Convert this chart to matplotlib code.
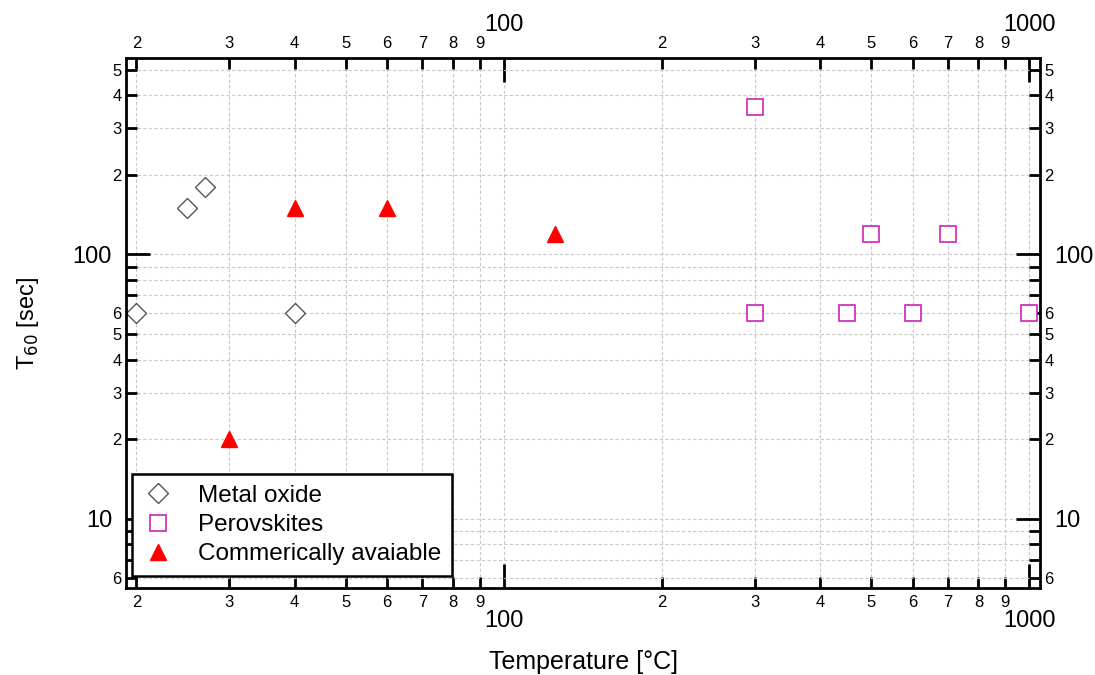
import numpy as np
import matplotlib
matplotlib.use('Agg')
import matplotlib.pyplot as plt
from matplotlib.ticker import LogLocator, FixedLocator, FuncFormatter

plt.rcParams['font.family'] = ['Liberation Sans', 'DejaVu Sans']

# data
metal_x = [20, 25, 27, 40]
metal_y = [60, 150, 180, 60]
perov_x = [300, 300, 450, 500, 600, 700, 1000]
perov_y = [360, 60, 60, 120, 60, 120, 60]
comm_x = [30, 40, 60, 125]
comm_y = [20, 150, 150, 120]

x_labelled = [2, 3, 4, 5, 6, 7, 8, 9]
y_labelled = [2, 3, 4, 5, 6]


def minor_fmt(labelled):
    def f(v, pos):
        m = v / 10 ** np.floor(np.log10(v) + 1e-9)
        m = int(round(m))
        return str(m) if m in labelled else ''
    return FuncFormatter(f)


def major_fmt(v, pos):
    return '%d' % round(v)


fig = plt.figure(figsize=(10.95, 6.75), dpi=100)
ax = fig.add_axes([0.115, 0.129, 0.835, 0.785])

ax.plot(metal_x, metal_y, 'D', ms=10, mfc='white', mec='#555555', mew=1.0,
        ls='none', label='Metal oxide')
ax.plot(perov_x, perov_y, 's', ms=11, mfc='white', mec='#cc22bb', mew=1.2,
        ls='none', label='Perovskites')
ax.plot(comm_x, comm_y, '^', ms=11, color='#ff0000', mec='#ff0000',
        ls='none', label='Commerically avaiable')

ax.set_xscale('log')
ax.set_yscale('log')
ax.set_xlim(19.1, 1049)
ax.set_ylim(5.48, 553)

ax.xaxis.set_major_locator(FixedLocator([100, 1000]))
ax.yaxis.set_major_locator(FixedLocator([10, 100]))
ax.xaxis.set_minor_locator(LogLocator(base=10, subs=np.arange(2, 10)))
ax.yaxis.set_minor_locator(LogLocator(base=10, subs=np.arange(2, 10)))
ax.xaxis.set_major_formatter(FuncFormatter(major_fmt))
ax.yaxis.set_major_formatter(FuncFormatter(major_fmt))
ax.xaxis.set_minor_formatter(minor_fmt(x_labelled))
ax.yaxis.set_minor_formatter(minor_fmt(y_labelled))

ax.tick_params(which='both', direction='in', top=True, right=True,
               labeltop=True, labelright=True, width=2, color='black')
ax.tick_params(axis='x', which='major', length=17, labelsize=17, pad=16)
ax.tick_params(axis='y', which='major', length=17, labelsize=17, pad=10)
ax.tick_params(axis='x', which='minor', length=8, labelsize=12, pad=5)
ax.tick_params(axis='y', which='minor', length=8, labelsize=12, pad=3)

for s in ax.spines.values():
    s.set_linewidth(2)

ax.grid(True, which='both', ls=(0, (3, 2)), color='#c8c8c8', lw=0.8)
ax.set_axisbelow(True)

ax.set_xlabel('Temperature [°C]', fontsize=18, labelpad=13)
ax.set_ylabel('T$_{60}$ [sec]', fontsize=17, labelpad=23)

leg = ax.legend(loc='lower left', fontsize=17.5, frameon=True, fancybox=False,
                edgecolor='black', framealpha=1, borderpad=0.45,
                handletextpad=1.0, labelspacing=0.3, handlelength=1.25,
                borderaxespad=0, bbox_to_anchor=(0.0066, 0.022))
leg.get_frame().set_linewidth(1.8)

fig.savefig('out.png', dpi=100)
